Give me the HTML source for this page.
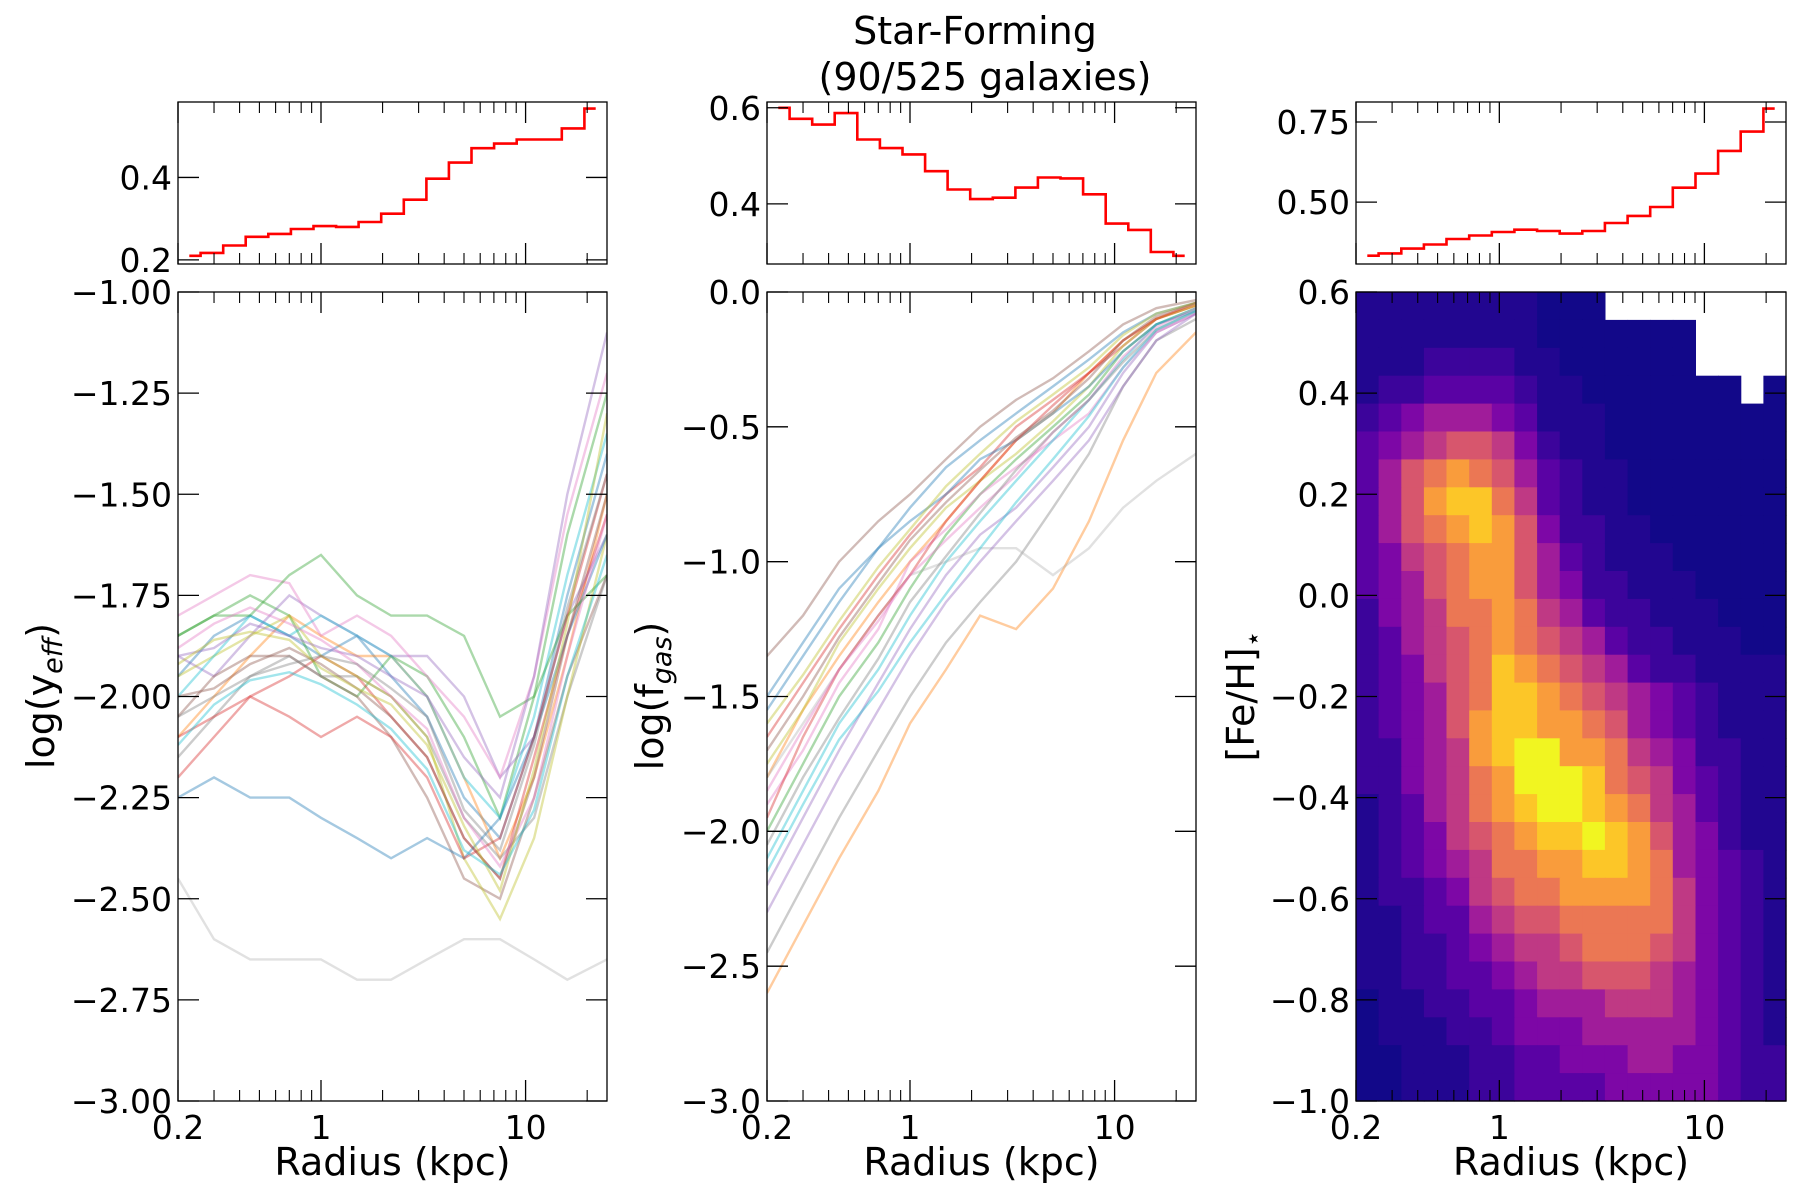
<!DOCTYPE html>
<html><head><meta charset="utf-8"><style>
html,body{margin:0;padding:0;background:#fff}
svg{display:block;font-family:"DejaVu Sans","Liberation Sans",sans-serif}
</style></head><body>
<svg id="fig" width="1800" height="1200" viewBox="0 0 1800 1200" xmlns="http://www.w3.org/2000/svg">
<text x="975" y="44" font-size="38" text-anchor="middle">Star-Forming</text>
<text x="985" y="90" font-size="38" text-anchor="middle">(90/525 galaxies)</text>
<g id="plots"></g>
</svg>
<script>
// ---- data ----
const radiusGrid = [0.2,0.3,0.45,0.7,1,1.5,2.2,3.3,5,7.5,11,16,25];
const yeffLines = [
[-1.95,-1.85,-1.80,-1.85,-1.90,-1.85,-1.95,-2.05,-2.25,-2.35,-2.10,-1.75,-1.40],
[-2.10,-2.00,-1.90,-1.80,-1.85,-1.90,-1.90,-2.00,-2.20,-2.40,-2.20,-1.90,-1.50],
[-1.85,-1.80,-1.75,-1.80,-1.95,-2.00,-1.90,-1.95,-2.10,-2.30,-2.00,-1.60,-1.25],
[-2.20,-2.10,-2.00,-1.95,-1.90,-1.95,-2.05,-2.15,-2.35,-2.45,-2.15,-1.85,-1.55],
[-1.90,-1.95,-1.85,-1.75,-1.80,-1.85,-1.90,-1.90,-2.00,-2.20,-2.10,-1.80,-1.60],
[-2.05,-1.95,-1.90,-1.90,-1.95,-2.00,-2.10,-2.25,-2.45,-2.50,-2.25,-1.95,-1.70],
[-1.80,-1.75,-1.70,-1.72,-1.85,-1.80,-1.85,-1.95,-2.05,-2.20,-1.95,-1.55,-1.20],
[-2.15,-2.05,-1.95,-1.90,-1.95,-1.95,-2.00,-2.10,-2.30,-2.40,-2.30,-2.00,-1.70],
[-1.95,-1.90,-1.85,-1.80,-1.90,-1.95,-2.00,-2.10,-2.40,-2.55,-2.35,-2.00,-1.60],
[-2.00,-1.90,-1.80,-1.85,-1.80,-1.85,-1.90,-2.00,-2.20,-2.30,-2.05,-1.70,-1.35],
[-2.25,-2.20,-2.25,-2.25,-2.30,-2.35,-2.40,-2.35,-2.40,-2.30,-2.10,-1.85,-1.60],
[-2.45,-2.60,-2.65,-2.65,-2.65,-2.70,-2.70,-2.65,-2.60,-2.60,-2.65,-2.70,-2.65],
[-1.85,-1.80,-1.80,-1.70,-1.65,-1.75,-1.80,-1.80,-1.85,-2.05,-2.00,-1.80,-1.70],
[-2.10,-2.05,-2.00,-2.05,-2.10,-2.05,-2.10,-2.20,-2.40,-2.35,-2.10,-1.80,-1.45],
[-1.90,-1.88,-1.82,-1.85,-1.88,-1.90,-1.95,-2.00,-2.15,-2.25,-1.95,-1.50,-1.10],
[-2.00,-1.98,-1.92,-1.88,-1.92,-1.98,-2.05,-2.15,-2.35,-2.45,-2.20,-1.85,-1.50],
[-1.88,-1.82,-1.78,-1.82,-1.86,-1.92,-2.00,-2.08,-2.30,-2.42,-2.25,-1.90,-1.55],
[-2.05,-2.00,-1.95,-1.92,-1.90,-1.92,-1.98,-2.05,-2.28,-2.38,-2.12,-1.78,-1.45],
[-1.92,-1.86,-1.84,-1.86,-1.93,-1.98,-2.02,-2.12,-2.32,-2.48,-2.18,-1.82,-1.30],
[-2.12,-2.02,-1.96,-1.94,-1.97,-2.02,-2.08,-2.18,-2.38,-2.44,-2.28,-1.95,-1.65]
];
const fgasLines = [
[-1.50,-1.30,-1.10,-0.95,-0.80,-0.65,-0.55,-0.45,-0.35,-0.25,-0.15,-0.08,-0.04],
[-1.80,-1.55,-1.35,-1.15,-1.00,-0.85,-0.70,-0.55,-0.45,-0.30,-0.18,-0.10,-0.05],
[-2.00,-1.75,-1.50,-1.30,-1.10,-0.90,-0.75,-0.62,-0.50,-0.38,-0.22,-0.12,-0.06],
[-1.65,-1.45,-1.25,-1.05,-0.90,-0.75,-0.65,-0.50,-0.40,-0.30,-0.20,-0.10,-0.05],
[-2.20,-1.95,-1.70,-1.45,-1.25,-1.05,-0.90,-0.80,-0.65,-0.50,-0.30,-0.15,-0.08],
[-1.35,-1.20,-1.00,-0.85,-0.75,-0.62,-0.50,-0.40,-0.32,-0.22,-0.12,-0.06,-0.03],
[-1.90,-1.70,-1.45,-1.25,-1.00,-0.88,-0.75,-0.65,-0.55,-0.45,-0.28,-0.15,-0.08],
[-2.45,-2.20,-1.95,-1.70,-1.50,-1.30,-1.15,-1.00,-0.80,-0.60,-0.35,-0.18,-0.10],
[-1.75,-1.55,-1.30,-1.10,-0.95,-0.80,-0.70,-0.60,-0.48,-0.35,-0.20,-0.10,-0.05],
[-2.10,-1.85,-1.60,-1.40,-1.20,-1.00,-0.85,-0.70,-0.55,-0.40,-0.25,-0.12,-0.06],
[-1.55,-1.35,-1.15,-0.95,-0.85,-0.75,-0.62,-0.55,-0.45,-0.35,-0.22,-0.12,-0.07],
[-2.60,-2.35,-2.10,-1.85,-1.60,-1.40,-1.20,-1.25,-1.10,-0.85,-0.55,-0.30,-0.15],
[-1.80,-1.60,-1.40,-1.20,-1.05,-1.00,-0.95,-0.95,-1.05,-0.95,-0.80,-0.70,-0.60],
[-1.95,-1.65,-1.40,-1.20,-1.05,-0.85,-0.70,-0.55,-0.42,-0.30,-0.18,-0.10,-0.04],
[-2.30,-2.05,-1.80,-1.55,-1.35,-1.15,-1.00,-0.85,-0.70,-0.55,-0.35,-0.18,-0.08],
[-1.70,-1.50,-1.28,-1.08,-0.92,-0.78,-0.66,-0.54,-0.44,-0.32,-0.18,-0.09,-0.04],
[-1.85,-1.62,-1.40,-1.22,-1.05,-0.92,-0.80,-0.68,-0.52,-0.40,-0.24,-0.13,-0.06],
[-2.05,-1.80,-1.58,-1.36,-1.15,-0.98,-0.82,-0.66,-0.52,-0.40,-0.26,-0.14,-0.07],
[-1.60,-1.42,-1.22,-1.02,-0.88,-0.72,-0.60,-0.48,-0.38,-0.28,-0.16,-0.08,-0.04],
[-2.15,-1.90,-1.66,-1.48,-1.30,-1.12,-0.95,-0.78,-0.62,-0.46,-0.28,-0.14,-0.07]
];
const lineColors = ["#1f77b4","#ff7f0e","#2ca02c","#d62728","#9467bd","#8c564b","#e377c2","#7f7f7f","#bcbd22","#17becf"];
const yeffFrac = [0.210,0.217,0.235,0.256,0.263,0.275,0.282,0.280,0.292,0.312,0.346,0.397,0.436,0.471,0.482,0.492,0.492,0.519,0.567];
const fgasFrac = [0.600,0.577,0.565,0.589,0.534,0.516,0.503,0.468,0.430,0.410,0.413,0.434,0.455,0.453,0.420,0.359,0.346,0.300,0.292];
const fehFrac  = [0.333,0.340,0.355,0.368,0.385,0.396,0.407,0.414,0.410,0.402,0.410,0.435,0.457,0.485,0.545,0.589,0.660,0.720,0.792];
// heatmap levels (0..b), rows from [Fe/H]=0.6 downwards, x = empty
const heatRows = [
"11111111000xxxxxxxx",
"111111110000000xxxx",
"111222211000000xxxx",
"12233332110000000x0",
"2345554311100000000",
"3456776421100000000",
"3578987532110000000",
"3579aa8632110000000",
"35789a9742211000000",
"3467899753211100000",
"3457899754221110000",
"2456889865322111000",
"2356789876532211100",
"234678a987653221111",
"234578aa98765432111",
"234579aa99875432111",
"224569abb9986542211",
"2245689bbba87643211",
"1235689abba98653211",
"12346789aaba9754211",
"1234568899aa9854321",
"1223467889999864321",
"1123356778888864321",
"1122345667888764321",
"1122334566777654321",
"0112233455566654321",
"0111223444555554321",
"0011122334445544322",
"0011122333344444322"
];
const topTicks = [[0.2,0.4],[0.4,0.6],[0.50,0.75]];
const topTickLabels = [["0.2","0.4"],["0.4","0.6"],["0.50","0.75"]];
const mainTicks = [[-3,-2.75,-2.5,-2.25,-2,-1.75,-1.5,-1.25,-1],[-3,-2.5,-2,-1.5,-1,-0.5,0],[-1,-0.8,-0.6,-0.4,-0.2,0,0.2,0.4,0.6]];
const mainTickLabels = [["−3.00","−2.75","−2.50","−2.25","−2.00","−1.75","−1.50","−1.25","−1.00"],["−3.0","−2.5","−2.0","−1.5","−1.0","−0.5","0.0"],["−1.0","−0.8","−0.6","−0.4","−0.2","0.0","0.2","0.4","0.6"]];
const xTickVals = [0.2,1,10];
const xTickLabels = ["0.2","1","10"];

// ---- layout ----
const NS="http://www.w3.org/2000/svg";
const root=document.getElementById("plots");
const XMIN=0.2,XMAX=25,NB=19;
const cols=[{x0:178,x1:607},{x0:767,x1:1196},{x0:1356,x1:1786}];
const TOP={y0:102,y1:264},MAIN={y0:292,y1:1101};
const topRanges=[[0.190,0.583],[0.275,0.612],[0.307,0.8125]];
const mainRanges=[[-3,-1],[-3,0],[-1,0.6]];
function mk(tag,attrs,parent){const e=document.createElementNS(NS,tag);for(const k in attrs)e.setAttribute(k,attrs[k]);(parent||root).appendChild(e);return e;}
function xs(c,v){const p=cols[c];return p.x0+(Math.log10(v)-Math.log10(XMIN))/(Math.log10(XMAX)-Math.log10(XMIN))*(p.x1-p.x0);}
function ysc(box,rng,v){return box.y1-(v-rng[0])/(rng[1]-rng[0])*(box.y1-box.y0);}
const binEdges=[];for(let i=0;i<=NB;i++)binEdges.push(Math.pow(10,Math.log10(XMIN)+i*(Math.log10(XMAX)-Math.log10(XMIN))/NB));
const minors=[0.3,0.4,0.5,0.6,0.7,0.8,0.9,2,3,4,5,6,7,8,9,20];

function axesFrame(c,box,g,withXLabels){
  const p=cols[c];
  const fr=mk("rect",{x:p.x0,y:box.y0,width:p.x1-p.x0,height:box.y1-box.y0,fill:"none",stroke:"#000","stroke-width":1.3},g);
  
  
  xTickVals.forEach((v,i)=>{const x=xs(c,v);
    mk("line",{x1:x,x2:x,y1:box.y1,y2:box.y1-21,stroke:"#000","stroke-width":1.3},g);
    mk("line",{x1:x,x2:x,y1:box.y0,y2:box.y0+21,stroke:"#000","stroke-width":1.3},g);
    if(withXLabels){const t=mk("text",{x:x,y:box.y1+38,"font-size":33,"text-anchor":"middle"},g);t.textContent=xTickLabels[i];
      
      }
  });
  minors.forEach(v=>{const x=xs(c,v);
    mk("line",{x1:x,x2:x,y1:box.y1,y2:box.y1-11,stroke:"#000","stroke-width":1.1},g);
    mk("line",{x1:x,x2:x,y1:box.y0,y2:box.y0+11,stroke:"#000","stroke-width":1.1},g);});
}
function yTicks(c,box,rng,vals,labels,g){
  const p=cols[c];
  vals.forEach((v,i)=>{const y=ysc(box,rng,v);
    mk("line",{x1:p.x0,x2:p.x0+21,y1:y,y2:y,stroke:"#000","stroke-width":1.3},g);
    mk("line",{x1:p.x1,x2:p.x1-21,y1:y,y2:y,stroke:"#000","stroke-width":1.3},g);
    const t=mk("text",{x:p.x0-6,y:y+12,"font-size":33,"text-anchor":"end"},g);t.textContent=labels[i];
    
    });
}
function plasma(t){const s=["#0d0887","#41049d","#6a00a8","#8f0da4","#b12a90","#cc4778","#e16462","#f2844b","#fca636","#fcce25","#f0f921"];
  const f=Math.min(0.9999,Math.max(0,t))*(s.length-1),i=Math.floor(f),u=f-i;
  const a=s[i],b=s[i+1];const h=(q,k)=>parseInt(q.substr(1+2*k,2),16);
  return "rgb("+[0,1,2].map(k=>Math.round(h(a,k)+(h(b,k)-h(a,k))*u)).join(",")+")";}
const levelT=[0.01,0.04,0.09,0.16,0.25,0.35,0.45,0.55,0.66,0.77,0.88,0.99];

const fracs=[yeffFrac,fgasFrac,fehFrac];
for(let c=0;c<3;c++){
  const gt=mk("g",{});
  
  
  const centers=[];for(let i=0;i<NB;i++)centers.push(Math.sqrt(binEdges[i]*binEdges[i+1]));
  let d="";const f=fracs[c];
  for(let i=0;i<NB;i++){
    const xa=i===0?xs(c,centers[0]):xs(c,binEdges[i]);
    const xb=i===NB-1?xs(c,centers[NB-1]):xs(c,binEdges[i+1]);
    const y=ysc(TOP,topRanges[c],f[i]);
    d+=(i===0?"M":"L")+xa.toFixed(1)+","+y.toFixed(1)+"L"+xb.toFixed(1)+","+y.toFixed(1);
  }
  const st=mk("path",{d:d,fill:"none",stroke:"#ff0000","stroke-width":2.6},gt);
  
  
  axesFrame(c,TOP,gt,false);
  yTicks(c,TOP,topRanges[c],topTicks[c],topTickLabels[c],gt);

  const gm=mk("g",{});
  
  
  if(c<2){
    const L=c===0?yeffLines:fgasLines;
    const clip=mk("clipPath",{id:"clip"+c},gm);
    mk("rect",{x:cols[c].x0,y:MAIN.y0,width:cols[c].x1-cols[c].x0,height:MAIN.y1-MAIN.y0},clip);
    const gl=mk("g",{"clip-path":"url(#clip"+c+")"},gm);
    L.forEach((ln,k)=>{
      const pts=ln.map((v,j)=>xs(c,radiusGrid[j]).toFixed(1)+","+ysc(MAIN,mainRanges[c],v).toFixed(1)).join(" ");
      const gray=(k===11&&c===0)||(k===12&&c===1);
      const pl=mk("polyline",{points:pts,fill:"none",stroke:gray?"#aaa":lineColors[k%10],"stroke-opacity":gray?0.35:0.4,"stroke-width":2.4},gl);
      
      
    });
  } else {
    const nr=heatRows.length,rng=mainRanges[2],dy=(rng[1]-rng[0])/nr;
    heatRows.forEach((row,r)=>{
      for(let j=0;j<NB;j++){const ch=row[j];if(!ch||ch==="x")continue;
        const lv=parseInt(ch,16);
        const ytop=ysc(MAIN,rng,rng[1]-r*dy),ybot=ysc(MAIN,rng,rng[1]-(r+1)*dy);
        const xa=xs(c,binEdges[j]),xb=xs(c,binEdges[j+1]);
        const rc=mk("rect",{x:xa.toFixed(1),y:ytop.toFixed(1),width:(xb-xa+0.6).toFixed(1),height:(ybot-ytop+0.6).toFixed(1),fill:plasma(levelT[lv])},gm);
        
        
      }
    });
  }
  axesFrame(c,MAIN,gm,true);
  yTicks(c,MAIN,mainRanges[c],mainTicks[c],mainTickLabels[c],gm);
  const xl=mk("text",{x:(cols[c].x0+cols[c].x1)/2,y:1175,"font-size":38,"text-anchor":"middle"},gm);
  xl.textContent="Radius (kpc)";
  
  
}
const ylx=[40,649,1240];
const ylab=[["log(y","eff",")"],["log(f","gas",")"],["[Fe/H]","⋆",""]];
for(let c=0;c<3;c++){
  const t=mk("text",{transform:"translate("+(ylx[c]+14)+",696) rotate(-90)","font-size":38,"text-anchor":"middle"});
  
  
  const a=mk("tspan",{},t);a.textContent=ylab[c][0];
  const b=mk("tspan",{"font-size":27,dy:8,"font-style":c<2?"italic":"normal"},t);b.textContent=ylab[c][1];
  const e=mk("tspan",{dy:-8},t);e.textContent=ylab[c][2];
}
</script>
</body></html>
